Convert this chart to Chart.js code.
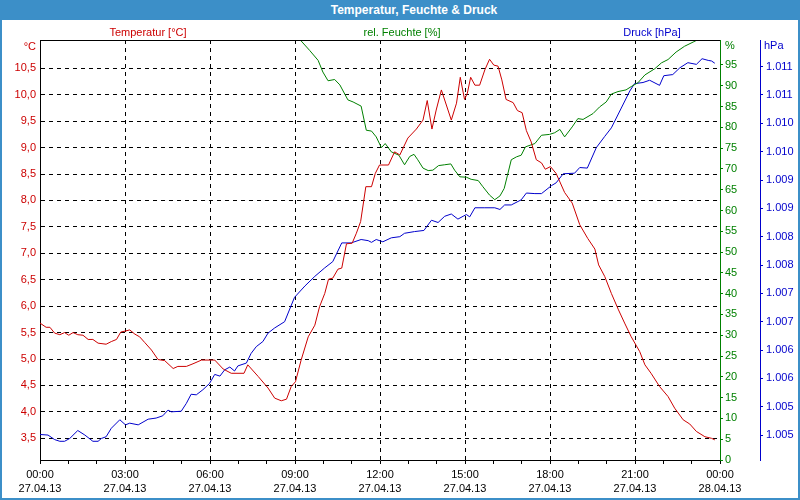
<!DOCTYPE html>
<html>
<head>
<meta charset="utf-8">
<script src="https://cdn.jsdelivr.net/npm/chart.js@4"></script>
<style>
html,body{margin:0;padding:0;background:#fff;}
#wrap{position:relative;width:800px;height:500px;overflow:hidden;font-family:"Liberation Sans",Arial,sans-serif;background:#fff;}
#c{position:absolute;left:0;top:0;}
#frame{position:absolute;left:0;top:0;width:800px;height:500px;box-sizing:border-box;border:2px solid #3c8fc8;border-top:none;pointer-events:none;}
#titlebar{position:absolute;left:0;top:0;width:800px;height:20px;background:#3c8fc8;}
#title{position:absolute;left:264px;width:300px;top:0;height:20px;line-height:20px;text-align:center;color:#fff;font-weight:bold;font-size:12px;}
.lbl{position:absolute;font-size:11px;line-height:14px;white-space:nowrap;}
.ctr{transform:translateX(-50%);}
</style>
</head>
<body>
<div id="wrap">
  <canvas id="c" width="800" height="500"></canvas>
  <div id="titlebar"><div id="title">Temperatur, Feuchte &amp; Druck</div></div>
  <div class="lbl ctr" style="left:148px;top:25px;color:#cc0000">Temperatur [°C]</div>
  <div class="lbl ctr" style="left:402px;top:25px;color:#008000">rel. Feuchte [%]</div>
  <div class="lbl ctr" style="left:652px;top:25px;color:#0000cc">Druck [hPa]</div>
  <div class="lbl" style="right:764px;top:39px;color:#cc0000">°C</div>
  <div class="lbl" style="left:725px;top:38px;color:#008000">%</div>
  <div class="lbl" style="left:764px;top:38px;color:#0000cc">hPa</div>
  <div id="frame"></div>
</div>
<script>
// ---- axis ticks / labels ----
const xTickMinutes = [0, 180, 360, 540, 720, 900, 1080, 1260, 1440];
const xTimeLabels = ['00:00','03:00','06:00','09:00','12:00','15:00','18:00','21:00','00:00'];
const xDateLabels = ['27.04.13','27.04.13','27.04.13','27.04.13','27.04.13','27.04.13','27.04.13','27.04.13','28.04.13'];
const xHourTicks = [0,60,120,180,240,300,360,420,480,540,600,660,720,780,840,900,960,1020,1080,1140,1200,1260,1320,1380,1440];
const tempTicks = [3.5,4.0,4.5,5.0,5.5,6.0,6.5,7.0,7.5,8.0,8.5,9.0,9.5,10.0,10.5];
const humTicks = [0,5,10,15,20,25,30,35,40,45,50,55,60,65,70,75,80,85,90,95];
const pressTicks = [1.0045,1.0050,1.0055,1.0060,1.0065,1.0070,1.0075,1.0080,1.0085,1.0090,1.0095,1.0100,1.0105,1.0110];

// ---- series (time in minutes since 27.04.13 00:00) ----
const tempTimes = [0,13,21,31,42,52,61,70,80,91,102,112,123,140,151,162,171,181,190,201,211,222,236,250,264,282,292,310,324,342,370,388,405,432,440,462,483,497,511,522,532,541,553,568,582,592,603,611,620,631,639,649,661,670,679,690,702,710,719,738,751,762,779,797,811,820,830,839,850,871,882,890,899,905,912,921,931,942,952,961,970,978,987,1002,1011,1021,1030,1040,1051,1062,1070,1081,1093,1111,1127,1143,1160,1175,1183,1196,1210,1225,1238,1252,1270,1281,1294,1312,1330,1344,1362,1376,1390,1408,1422,1429];
const temperature = [5.68,5.60,5.60,5.49,5.46,5.50,5.45,5.50,5.46,5.45,5.37,5.37,5.30,5.28,5.33,5.37,5.51,5.53,5.55,5.47,5.42,5.31,5.17,4.99,4.97,4.82,4.86,4.86,4.91,4.98,4.98,4.81,4.73,4.73,4.89,4.67,4.45,4.26,4.21,4.24,4.48,4.57,4.98,5.42,5.64,5.99,6.24,6.51,6.53,6.70,6.72,7.18,7.19,7.38,7.60,8.26,8.26,8.51,8.67,8.67,8.92,8.86,9.18,9.35,9.52,9.89,9.35,9.71,10.09,9.52,9.84,10.33,9.91,10.03,10.33,10.18,10.18,10.47,10.67,10.56,10.54,10.28,9.91,9.85,9.70,9.66,9.32,9.11,8.77,8.71,8.59,8.64,8.51,8.15,7.95,7.54,7.28,7.08,6.78,6.56,6.24,5.93,5.68,5.42,5.14,4.89,4.73,4.48,4.29,4.07,3.85,3.77,3.63,3.53,3.50,3.47];

const humTimes = [552,571,589,599,610,624,635,652,663,680,691,702,712,723,731,744,760,772,783,792,800,811,822,832,844,857,870,878,889,903,913,928,938,952,963,974,983,990,998,1009,1019,1028,1048,1062,1079,1090,1101,1111,1127,1139,1150,1171,1185,1199,1210,1224,1241,1252,1266,1281,1302,1316,1330,1347,1365,1383,1390];
const humidity = [100.9,98.5,96.1,93.3,91.2,91.5,90.2,86.6,86.1,85.1,79.3,79.1,77.7,75.1,76.1,74.1,73.3,71.0,73.0,73.5,72.2,70.2,69.6,69.7,70.8,71.0,71.2,69.7,68.1,68.0,67.5,67.2,65.7,63.7,62.6,63.5,65.3,68.5,72.2,72.9,73.3,75.3,76.1,78.1,78.3,78.7,79.5,77.7,80.1,82.1,81.9,83.3,84.9,86.1,88.0,88.6,89.0,89.8,90.7,92.6,94.1,95.5,96.3,98.1,99.5,100.5,100.9];

const pressTimes = [0,17,31,42,52,63,80,95,112,123,130,140,151,169,181,190,208,229,246,260,271,278,299,310,320,331,345,359,370,381,391,402,412,419,437,447,458,472,483,497,518,539,561,582,603,620,639,659,680,695,702,712,726,744,762,772,793,813,829,843,857,871,885,896,903,910,921,942,963,974,984,998,1019,1030,1048,1062,1083,1093,1108,1132,1143,1159,1178,1196,1210,1231,1249,1259,1277,1291,1312,1321,1340,1355,1372,1390,1402,1415,1422,1429];
const pressure = [1.00451,1.00450,1.00442,1.00439,1.00439,1.00444,1.00458,1.00450,1.00439,1.00439,1.00444,1.00447,1.00462,1.00477,1.00468,1.00471,1.00468,1.00478,1.00480,1.00484,1.00494,1.00491,1.00492,1.00506,1.00522,1.00521,1.00530,1.00541,1.00557,1.00554,1.00565,1.00570,1.00563,1.00572,1.00577,1.00594,1.00606,1.00615,1.00630,1.00639,1.00650,1.00693,1.00713,1.00730,1.00745,1.00756,1.00789,1.00789,1.00795,1.00793,1.00790,1.00795,1.00791,1.00798,1.00800,1.00806,1.00809,1.00811,1.00829,1.00825,1.00836,1.00840,1.00831,1.00836,1.00839,1.00835,1.00851,1.00851,1.00851,1.00848,1.00856,1.00856,1.00865,1.00877,1.00876,1.00876,1.00890,1.00895,1.00911,1.00912,1.00922,1.00921,1.00957,1.00977,1.00992,1.01027,1.01057,1.01070,1.01072,1.01076,1.01067,1.01084,1.01086,1.01098,1.01107,1.01104,1.01114,1.01111,1.01110,1.01106];

const RED = '#cc0000', GREEN = '#008000', BLUE = '#0000cc';
const FONT = {family: '"Liberation Sans", Arial, sans-serif', size: 11};
const DASH = [4, 4];

function zip(xs, ys) {
  const n = Math.min(xs.length, ys.length);
  const out = [];
  for (let i = 0; i < n; i++) out.push({x: xs[i], y: ys[i]});
  return out;
}

const topLine = {
  id: 'topLine',
  afterDraw(chart) {
    const {ctx, chartArea: a} = chart;
    ctx.save();
    ctx.strokeStyle = '#000';
    ctx.lineWidth = 1;
    ctx.beginPath();
    ctx.moveTo(a.left, Math.round(a.top) + 0.5);
    ctx.lineTo(a.right, Math.round(a.top) + 0.5);
    ctx.stroke();
    ctx.restore();
  }
};

new Chart(document.getElementById('c'), {
  type: 'line',
  data: {
    datasets: [
      {label: 'Temperatur [°C]', data: zip(tempTimes, temperature), yAxisID: 'yT', borderColor: RED, borderWidth: 1, pointRadius: 0, tension: 0, fill: false},
      {label: 'rel. Feuchte [%]', data: zip(humTimes, humidity), yAxisID: 'yH', borderColor: GREEN, borderWidth: 1, pointRadius: 0, tension: 0, fill: false},
      {label: 'Druck [hPa]', data: zip(pressTimes, pressure), yAxisID: 'yP', borderColor: BLUE, borderWidth: 1, pointRadius: 0, tension: 0, fill: false}
    ]
  },
  plugins: [topLine],
  options: {
    responsive: false,
    animation: false,
    devicePixelRatio: 1,
    events: [],
    layout: {padding: {top: 40, left: 0, right: 0, bottom: 0}},
    plugins: {legend: {display: false}, tooltip: {enabled: false}, title: {display: false}},
    scales: {
      x: {
        type: 'linear', position: 'bottom', min: 0, max: 1440,
        afterBuildTicks: s => { s.ticks = xHourTicks.map(v => ({value: v})); },
        afterFit: s => { s.height = 40; },
        ticks: {
          autoSkip: false, maxRotation: 0, minRotation: 0, padding: 3, color: '#000',
          font: Object.assign({}, FONT, {lineHeight: 1.36}),
          callback: v => { const i = xTickMinutes.indexOf(v); return i >= 0 ? [xTimeLabels[i], xDateLabels[i]] : ''; }
        },
        grid: {
          color: c => (c.tick && c.tick.value % 180 === 0 && c.tick.value > 0 && c.tick.value < 1440) ? '#000' : 'rgba(0,0,0,0)',
          lineWidth: 1, drawTicks: true, tickLength: 4, tickColor: '#000', tickWidth: 1
        },
        border: {display: true, color: '#000', width: 1, dash: DASH}
      },
      yT: {
        type: 'linear', position: 'left', min: 3.0895, max: 11.035,
        afterBuildTicks: s => { s.ticks = tempTicks.map(v => ({value: v})); },
        afterFit: s => { s.width = 40; },
        ticks: {color: RED, padding: 4, font: FONT, callback: v => v.toFixed(1).replace('.', ',')},
        grid: {color: '#000', lineWidth: 1, drawTicks: false},
        border: {display: true, color: '#000', width: 1, dash: DASH}
      },
      yH: {
        type: 'linear', position: 'right', weight: 0, min: 0, max: 101,
        afterBuildTicks: s => { s.ticks = humTicks.map(v => ({value: v})); },
        afterFit: s => { s.width = 40; },
        ticks: {color: GREEN, padding: 2, font: FONT, callback: v => String(v)},
        grid: {drawOnChartArea: false, drawTicks: true, tickLength: 3, tickColor: GREEN},
        border: {display: true, color: GREEN, width: 1}
      },
      yP: {
        type: 'linear', position: 'right', weight: 1, min: 1.00406, max: 1.01147,
        afterBuildTicks: s => { s.ticks = pressTicks.map(v => ({value: v})); },
        afterFit: s => { s.width = 40; },
        ticks: {color: BLUE, padding: 3, font: FONT, callback: v => (Math.round(v * 1000 + 1e-6) / 1000).toFixed(3)},
        grid: {drawOnChartArea: false, drawTicks: true, tickLength: 3, tickColor: BLUE},
        border: {display: true, color: BLUE, width: 1}
      }
    }
  }
});
</script>
</body>
</html>
